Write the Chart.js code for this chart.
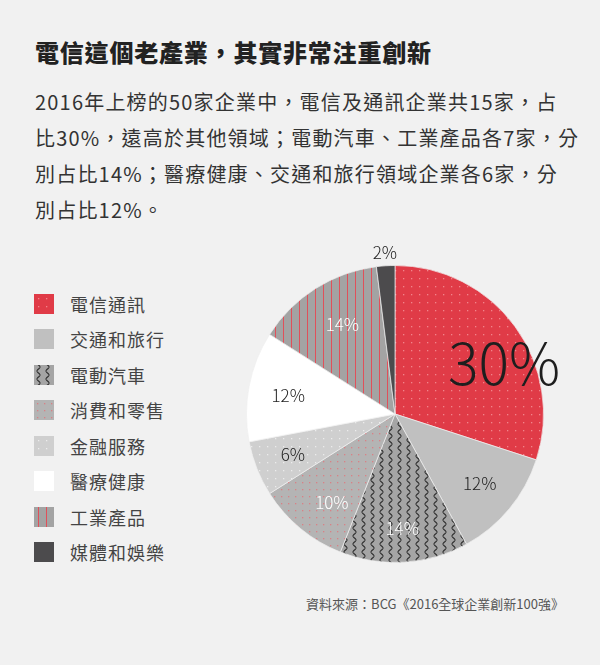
<!DOCTYPE html>
<html lang="zh-Hant">
<head>
<meta charset="utf-8">
<script src="https://cdn.jsdelivr.net/npm/chart.js@4/dist/chart.umd.min.js"></script>
<style>
    html, body {
        margin: 0;
        padding: 0;
        width: 600px;
        height: 665px;
        background: #f1f1f1;
        overflow: hidden;
        font-family: "Noto Sans CJK TC", "Noto Sans", sans-serif;
    }
    .title {
        position: absolute;
        left: 35px;
        top: 37px;
        font-size: 24px;
        line-height: 30px;
        font-weight: 900;
        letter-spacing: 0.8px;
        color: #222;
        white-space: nowrap;
    }
    .intro {
        position: absolute;
        left: 35px;
        top: 84px;
        font-size: 20px;
        line-height: 36px;
        letter-spacing: 1.2px;
        color: #333;
        white-space: nowrap;
    }
    .legend {
        position: absolute;
        left: 34px;
        top: 286px;
    }
    .legend-item {
        height: 35.5px;
        display: flex;
        align-items: center;
        font-size: 18px;
        letter-spacing: 1px;
        color: #444;
    }
    .legend-box {
        width: 20px;
        height: 20px;
        margin-right: 16px;
    }
    .chart-wrap {
        position: absolute;
        left: 215px;
        top: 234px;
        width: 360px;
        height: 360px;
    }
    .source {
        position: absolute;
        right: 36px;
        top: 594px;
        font-size: 13px;
        line-height: 20px;
        color: #555;
        white-space: nowrap;
    }
</style>
</head>
<body>
<div class="title">電信這個老產業，其實非常注重創新</div>
<div class="intro">
    2016年上榜的50家企業中，電信及通訊企業共15家，占<br>
    比30%，遠高於其他領域；電動汽車、工業產品各7家，分<br>
    別占比14%；醫療健康、交通和旅行領域企業各6家，分<br>
    別占比12%。
</div>
<div class="legend" id="legend"></div>
<div class="chart-wrap"><canvas id="pieChart" width="360" height="360"></canvas></div>
<div class="source">資料來源：BCG《2016全球企業創新100強》</div>

<script>
// data
const categories = ['電信通訊', '交通和旅行', '電動汽車', '消費和零售', '金融服務', '醫療健康', '工業產品', '媒體和娛樂'];
const shares = [30, 12, 14, 10, 6, 12, 14, 2];
const valueLabels = ['30%', '12%', '14%', '10%', '6%', '12%', '14%', '2%'];
const legendOrder = ['電信通訊', '交通和旅行', '電動汽車', '消費和零售', '金融服務', '醫療健康', '工業產品', '媒體和娛樂'];

// label look: text colour, size, radial factor, angle shift (deg)
const labelColors = ['#1e1e1e', '#222', '#fff', '#fff', '#222', '#222', '#fff', '#222'];
const labelSizes = [57, 17, 17, 17, 17, 17, 17, 17];
const labelRadius = [0.81, 0.74, 0.77, 0.73, 0.74, 0.73, 0.70, 1.09];
const labelShift = [11, 0, 0, -4, 0, -1, 2, 0];

/**
 * Pattern tiles
 */
const makeTile = (w, h, draw) => {
    const c = document.createElement('canvas');
    c.width = w;
    c.height = h;
    draw(c.getContext('2d'), w, h);
    return c;
};

const dotTile = (base, dot, step) => makeTile(step, step, (g, w, h) => {
    g.fillStyle = base;
    g.fillRect(0, 0, w, h);
    g.fillStyle = dot;
    g.fillRect(Math.floor(w / 2), Math.floor(h / 2), 1.3, 1.3);
});

const flatTile = (base) => makeTile(8, 8, (g, w, h) => {
    g.fillStyle = base;
    g.fillRect(0, 0, w, h);
});

const stripeTile = makeTile(8, 8, (g, w, h) => {
    g.fillStyle = '#a3a3a3';
    g.fillRect(0, 0, w, h);
    g.fillStyle = '#e0505a';
    g.fillRect(4, 0, 1, h);
});

// vertical wavy lines
const waveTile = makeTile(9, 8, (g, w, h) => {
    g.fillStyle = '#a5a5a5';
    g.fillRect(0, 0, w, h);
    g.strokeStyle = '#2e2e2e';
    g.lineWidth = 1.1;
    g.beginPath();
    for (let y = -1; y <= h + 1; y += 0.25) {
        const x = 4.5 + 1.5 * Math.sin((y / h) * Math.PI * 2);
        if (y === -1) g.moveTo(x, y); else g.lineTo(x, y);
    }
    g.stroke();
});

const tiles = [
    dotTile('#e03b47', '#f2848b', 8),
    flatTile('#c0c0c0'),
    waveTile,
    dotTile('#b4b4b4', '#d98086', 7),
    dotTile('#cfcfcf', '#ececec', 8),
    flatTile('#ffffff'),
    stripeTile,
    flatTile('#4c4b4d')
];

const ctx = document.getElementById('pieChart').getContext('2d');
const fills = tiles.map(t => ctx.createPattern(t, 'repeat'));

/**
 * Legend (HTML)
 */
const legendEl = document.getElementById('legend');
legendOrder.forEach(name => {
    const i = categories.indexOf(name);
    const row = document.createElement('div');
    row.className = 'legend-item';
    const box = document.createElement('div');
    box.className = 'legend-box';
    box.style.backgroundImage = 'url(' + tiles[i].toDataURL() + ')';
    const txt = document.createElement('span');
    txt.textContent = name;
    row.appendChild(box);
    row.appendChild(txt);
    legendEl.appendChild(row);
});

/**
 * Slice labels
 */
const sliceLabels = {
    id: 'sliceLabels',
    afterDatasetsDraw(chart) {
        const c = chart.ctx;
        const meta = chart.getDatasetMeta(0);
        c.save();
        c.textAlign = 'center';
        c.textBaseline = 'middle';
        meta.data.forEach((arc, i) => {
            const p = arc.getProps(['x', 'y', 'startAngle', 'endAngle', 'outerRadius'], true);
            const a = (p.startAngle + p.endAngle) / 2 + labelShift[i] * Math.PI / 180;
            const r = p.outerRadius * labelRadius[i];
            c.font = '300 ' + labelSizes[i] + 'px "Noto Sans CJK TC", "Noto Sans", sans-serif';
            c.fillStyle = labelColors[i];
            c.fillText(valueLabels[i], p.x + Math.cos(a) * r, p.y + Math.sin(a) * r);
        });
        c.restore();
    }
};

new Chart(ctx, {
    type: 'pie',
    data: {
        labels: categories,
        datasets: [{
            data: shares,
            backgroundColor: fills,
            borderColor: 'rgba(240, 240, 240, 0.7)',
            borderWidth: 1
        }]
    },
    options: {
        responsive: false,
        animation: false,
        layout: { padding: 31 },
        plugins: {
            legend: { display: false },
            tooltip: { enabled: false }
        }
    },
    plugins: [sliceLabels]
});
</script>
</body>
</html>
